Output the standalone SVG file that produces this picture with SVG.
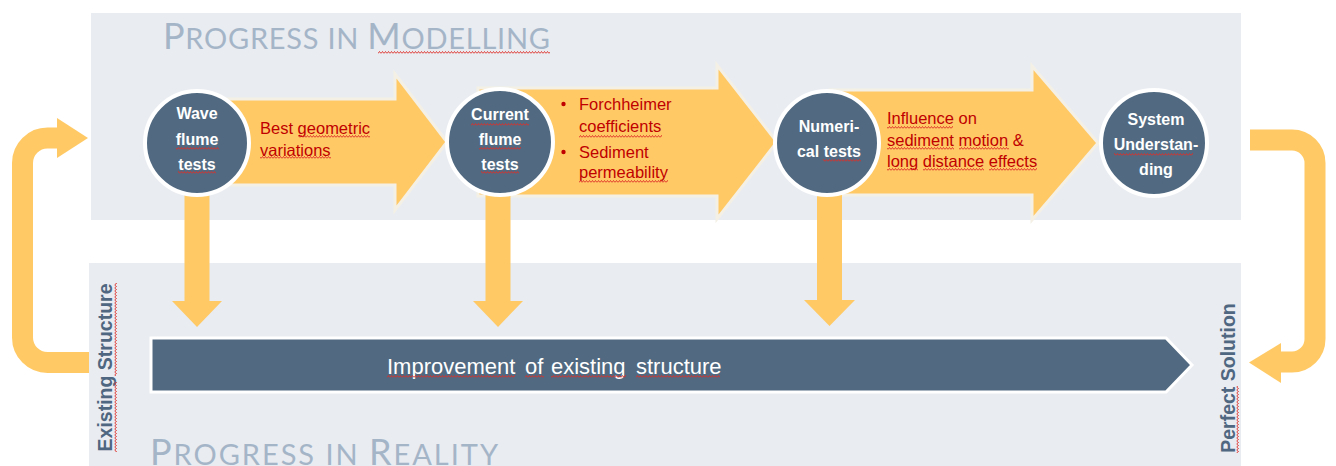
<svg xmlns="http://www.w3.org/2000/svg" width="1336" height="466" viewBox="0 0 1336 466">
  <style>
    .panel { fill: #E9ECF1; }
    .title { font-family: Lato, "Open Sans", "Liberation Sans", sans-serif; font-weight: 400; fill: #A5B5C8; }
    .big-arrow { fill: #FFC966; stroke: #F4F0E6; stroke-width: 3; stroke-linejoin: miter; }
    .down { fill: #FFCA66; }
    .loop { fill: none; stroke: #FFCA66; stroke-width: 21; }
    .loop-head { fill: #FFCA66; }
    .node { fill: #516A81; stroke: #FFFFFF; stroke-width: 4; }
    .node-text { font-family: "Liberation Sans", Arial, sans-serif; font-weight: bold; font-size: 16px; fill: #FFFFFF; text-anchor: middle; }
    .note { font-family: "Liberation Sans", Arial, sans-serif; font-size: 16.5px; fill: #C00000; }
    .side { font-family: "Liberation Sans", Arial, sans-serif; font-weight: bold; font-size: 19.5px; fill: #4F6780; text-anchor: middle; }
    .bar { fill: #516A81; stroke: #FFFFFF; stroke-width: 3; }
    .bar-text { font-family: "Liberation Sans", Arial, sans-serif; font-size: 22px; fill: #FFFFFF; }
    .sq { fill: url(#squiggle); }
    .sqv { fill: url(#squiggle-v); }
  </style>
  <defs>
    <!-- spell-check style wavy underline -->
    <pattern id="squiggle" width="3" height="3" patternUnits="userSpaceOnUse">
      <path d="M0 2.5 L1.5 0.5 L3 2.5" fill="none" stroke="#DE2C26" stroke-width="0.9"/>
    </pattern>
    <pattern id="squiggle-v" width="3" height="3" patternUnits="userSpaceOnUse">
      <path d="M0.5 0 L2.5 1.5 L0.5 3" fill="none" stroke="#DE2C26" stroke-width="0.9"/>
    </pattern>
  </defs>

  <!-- background panels -->
  <rect class="panel" x="91" y="13" width="1150" height="207"/>
  <rect class="panel" x="89" y="263" width="1152" height="203"/>

  <!-- panel titles -->
  <text class="title" x="163" y="49" textLength="387" lengthAdjust="spacing"><tspan font-size="36">P</tspan><tspan font-size="29">ROGRESS IN </tspan><tspan font-size="36">M</tspan><tspan font-size="29">ODELLING</tspan></text>
  <rect class="sq" x="378" y="51" width="172" height="3"/>
  <text class="title" x="150" y="465" textLength="348" lengthAdjust="spacing"><tspan font-size="36">P</tspan><tspan font-size="29">ROGRESS IN </tspan><tspan font-size="36">R</tspan><tspan font-size="29">EALITY</tspan></text>

  <g id="connectors">
    <!-- block arrows between the modelling steps -->
    <polygon class="big-arrow" points="200,99 395,99 395,74 447,142 395,210 395,185 200,185"/>
    <polygon class="big-arrow" points="478,88 717,88 717,65 777,142 717,219 717,196 478,196"/>
    <polygon class="big-arrow" points="830,90 1032,90 1032,66 1098,143 1032,220 1032,195 830,195"/>

    <!-- transfer arrows down to reality -->
    <polygon class="down" points="184.5,180 209.5,180 209.5,301 222,301 197,327 172,301 184.5,301"/>
    <polygon class="down" points="485.5,180 510.5,180 510.5,301 523,301 498,327 473,301 485.5,301"/>
    <polygon class="down" points="817,180 842,180 842,300 855,300 829.5,326 804,300 817,300"/>

    <!-- loop from existing structure back to modelling -->
    <path class="loop" d="M89 362.5 H47.5 A25 25 0 0 1 22.5 337.5 V163 A25 25 0 0 1 47.5 138 H58"/>
    <polygon class="loop-head" points="57,118 88,138 57,158"/>

    <!-- loop from system understanding down to perfect solution -->
    <path class="loop" d="M1250 140 H1292 A23 23 0 0 1 1315 163 V339 A23 23 0 0 1 1292 362 H1279"/>
    <polygon class="loop-head" points="1281,343 1249,362.5 1281,383"/>
  </g>

  <!-- arrow notes -->
  <g id="note-wave">
    <text class="note" x="260" y="134">Best geometric</text>
    <text class="note" x="260" y="156">variations</text>
    <rect class="sq" x="298" y="135" width="72" height="3"/>
    <rect class="sq" x="260" y="156" width="71" height="3"/>
  </g>
  <g id="note-current">
    <circle cx="563.5" cy="104" r="2.2" fill="#C00000"/>
    <circle cx="563.5" cy="152" r="2.2" fill="#C00000"/>
    <text class="note" x="579" y="110">Forchheimer</text>
    <text class="note" x="579" y="132">coefficients</text>
    <text class="note" x="579" y="158">Sediment</text>
    <text class="note" x="579" y="178">permeability</text>
    <rect class="sq" x="579" y="135" width="83" height="3"/>
    <rect class="sq" x="579" y="180" width="89" height="3"/>
  </g>
  <g id="note-numerical">
    <text class="note" x="887" y="124">Influence on</text>
    <text class="note" x="887" y="146">sediment motion &amp;</text>
    <text class="note" x="887" y="167">long distance effects</text>
    <rect class="sq" x="887" y="126" width="66" height="3"/>
    <rect class="sq" x="887" y="147" width="67" height="3"/>
    <rect class="sq" x="959" y="147" width="50" height="3"/>
    <rect class="sq" x="887" y="168" width="31" height="3"/>
    <rect class="sq" x="923" y="168" width="61" height="3"/>
    <rect class="sq" x="989" y="168" width="48" height="3"/>
  </g>

  <!-- modelling steps -->
  <g id="wave-flume-tests">
    <circle class="node" cx="197" cy="143" r="52"/>
    <text class="node-text" x="197" y="119">Wave</text>
    <text class="node-text" x="197" y="145">flume</text>
    <text class="node-text" x="197" y="170">tests</text>
    <rect class="sq" x="176" y="147" width="43" height="3"/>
    <rect class="sq" x="178" y="171" width="38" height="3"/>
  </g>
  <g id="current-flume-tests">
    <circle class="node" cx="500" cy="142" r="53"/>
    <text class="node-text" x="500" y="120">Current</text>
    <text class="node-text" x="500" y="145">flume</text>
    <text class="node-text" x="500" y="170">tests</text>
    <rect class="sq" x="471" y="123" width="58" height="3"/>
    <rect class="sq" x="479" y="147" width="42" height="3"/>
    <rect class="sq" x="481" y="171" width="38" height="3"/>
  </g>
  <g id="numerical-tests">
    <circle class="node" cx="827" cy="143" r="52"/>
    <text class="node-text" x="829" y="132">Numeri-</text>
    <text class="node-text" x="829" y="157">cal tests</text>
    <rect class="sq" x="823" y="159" width="38" height="3"/>
  </g>
  <g id="system-understanding">
    <circle class="node" cx="1154" cy="143" r="53"/>
    <text class="node-text" x="1156" y="125">System</text>
    <text class="node-text" x="1156" y="150">Understan-</text>
    <text class="node-text" x="1156" y="175">ding</text>
    <rect class="sq" x="1114" y="153" width="79" height="3"/>
  </g>

  <!-- reality track -->
  <g id="improvement">
    <polygon class="bar" points="151,338 1166,338 1192,365 1166,392 151,392"/>
    <text class="bar-text" y="374"><tspan x="387">Improvement</tspan> <tspan x="525">of</tspan> <tspan x="551">existing</tspan> <tspan x="636">structure</tspan></text>
    <rect class="sq" x="387" y="375" width="128" height="3"/>
    <rect class="sq" x="525" y="375" width="19" height="3"/>
    <rect class="sq" x="551" y="375" width="75" height="3"/>
    <rect class="sq" x="636" y="375" width="84" height="3"/>
  </g>
  <g id="existing-structure">
    <text class="side" transform="translate(112 367.5) rotate(-90)">Existing Structure</text>
    <rect class="sqv" x="114" y="283" width="3" height="93"/>
    <rect class="sqv" x="114" y="382" width="3" height="70"/>
  </g>
  <g id="perfect-solution">
    <text class="side" transform="translate(1235 378) rotate(-90)">Perfect Solution</text>
    <rect class="sqv" x="1236" y="386" width="3" height="67"/>
  </g>
</svg>
